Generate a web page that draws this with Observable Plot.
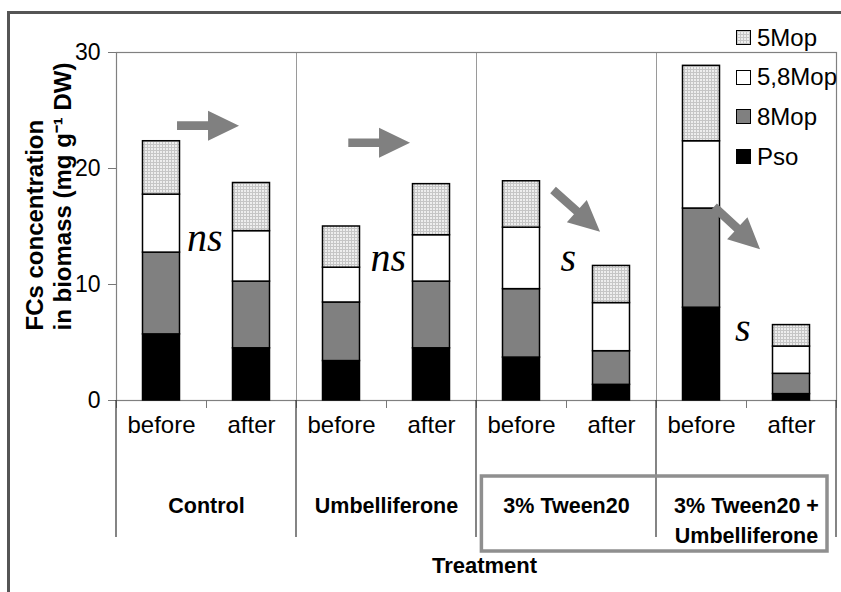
<!DOCTYPE html>
<html><head><meta charset="utf-8">
<script src="https://cdn.jsdelivr.net/npm/d3@7"></script>
<script src="https://cdn.jsdelivr.net/npm/@observablehq/plot@0.6"></script>
<style>
html,body{margin:0;padding:0;background:#fff;overflow:hidden;}
#wrap{position:relative;width:841px;height:592px;font-family:"Liberation Sans",Arial,sans-serif;}
#chart{position:absolute;left:0;top:0;}
#frame{position:absolute;left:7px;top:11px;width:900px;height:700px;border-left:3px solid #555;border-top:3px solid #555;pointer-events:none;}
#legend{position:absolute;left:736px;top:18px;font-size:24px;color:#000;}
.item{display:flex;align-items:center;height:39.6px;}
.sw{width:13px;height:13px;border:1px solid #000;margin-right:6px;box-sizing:content-box;}
</style></head>
<body><div id="wrap"><div id="chart"></div><div id="frame"></div><div id="legend"></div></div>
<script>
// ---- data ----
const treatments = ["Control", "Umbelliferone", "3% Tween20", "3% Tween20 +\nUmbelliferone"];
const phases = ["before", "after"];
const compounds = ["Pso", "8Mop", "5,8Mop", "5Mop"];          // stack order, bottom to top
const legendOrder = ["5Mop", "5,8Mop", "8Mop", "Pso"];
// one value per bar: Control b/a, Umbelliferone b/a, Tween b/a, Tween+Umb b/a
const pso   = [5.7, 4.5, 3.4, 4.5, 3.7, 1.35, 8.0, 0.55];
const mop8  = [7.05, 5.75, 5.05, 5.75, 5.9, 2.9, 8.55, 1.75];
const mop58 = [5.0, 4.35, 3.0, 4.0, 5.3, 4.15, 5.8, 2.35];
const mop5  = [4.6, 4.15, 3.55, 4.4, 4.0, 3.2, 6.5, 1.85];
const yTicks = [0, 10, 20, 30];
// significance annotations (data coordinates)
const sigText = ["ns", "ns", "s", "s"];
const sigX = [0.98, 3.02, 5.02, 6.96];
const sigY = [12.9, 11.2, 11.2, 5.17];
// trend arrows (tail -> tip, data coordinates)
const arrowX1 = [0.678, 2.581, 4.856, 6.644];
const arrowY1 = [23.65, 22.18, 18.10, 16.66];
const arrowX2 = [1.367, 3.267, 5.378, 7.156];
const arrowY2 = [23.65, 22.18, 14.51, 12.99];

// ---- tables built from the arrays ----
const series = [pso, mop8, mop58, mop5];
const bars = [];
for (let i = 0; i < pso.length; i++) compounds.forEach((c, k) => bars.push({i, compound: c, value: series[k][i]}));
const barIdx = d3.range(pso.length);
const groupBounds = d3.range(0, pso.length + 1, 2);
const sig = sigText.map((t, k) => ({t, x: sigX[k], y: sigY[k]}));
const arrows = arrowX1.map((x1, k) => ({x1, y1: arrowY1[k], x2: arrowX2[k], y2: arrowY2[k]}));

const fills = {"Pso": "#000000", "8Mop": "#808080", "5,8Mop": "#ffffff", "5Mop": "url(#dots5)"};

function defsMark() {
  const defs = d3.create("svg:defs");
  const p = defs.append("pattern").attr("id", "dots5").attr("patternUnits", "userSpaceOnUse")
    .attr("width", 3).attr("height", 3);
  p.append("rect").attr("width", 3).attr("height", 3).attr("fill", "#eeeeee");
  p.append("rect").attr("width", 3).attr("height", 1).attr("fill", "#c6c6c6");
  p.append("rect").attr("width", 1).attr("height", 3).attr("fill", "#c6c6c6");
  return defs.node();
}

function arrowsMark(index, scales) {
  const g = d3.create("svg:g");
  for (const a of arrows) {
    const x1 = scales.x(a.x1), y1 = scales.y(a.y1), x2 = scales.x(a.x2), y2 = scales.y(a.y2);
    const L = Math.hypot(x2 - x1, y2 - y1), ux = (x2 - x1) / L, uy = (y2 - y1) / L, px = -uy, py = ux;
    const hl = 31, hw = 15, sw = 4.3;
    const bx = x2 - ux * hl, by = y2 - uy * hl;
    const pts = [
      [x1 + px * sw, y1 + py * sw], [bx + px * sw, by + py * sw], [bx + px * hw, by + py * hw],
      [x2, y2], [bx - px * hw, by - py * hw], [bx - px * sw, by - py * sw], [x1 - px * sw, y1 - py * sw]
    ];
    g.append("polygon").attr("points", pts.map(p => p.join(",")).join(" ")).attr("fill", "#808080");
  }
  return g.node();
}

function belowAxisMark(index, scales, values, dims) {
  const g = d3.create("svg:g");
  const y0 = dims.height - dims.marginBottom;
  for (const b of groupBounds) {
    g.append("line").attr("x1", scales.x(b)).attr("x2", scales.x(b))
      .attr("y1", y0).attr("y2", y0 + 137).attr("stroke", "#333").attr("stroke-width", 1.2);
  }
  g.append("rect").attr("x", scales.x(4.06)).attr("y", y0 + 76)
    .attr("width", scales.x(7.9) - scales.x(4.06)).attr("height", 75)
    .attr("fill", "none").attr("stroke", "#8f8f8f").attr("stroke-width", 3.5);
  return g.node();
}

const chart = Plot.plot({
  width: 841, height: 592,
  marginLeft: 116, marginRight: 5, marginTop: 52, marginBottom: 192,
  style: {fontFamily: "'Liberation Sans', Arial, sans-serif", background: "transparent", color: "#000"},
  x: {domain: [0, pso.length], axis: null},
  y: {domain: [0, 30], axis: null},
  color: {domain: compounds, range: compounds.map(c => fills[c])},
  marks: [
    defsMark,
    Plot.ruleX(groupBounds.slice(1, -1), {stroke: "#9a9a9a", strokeWidth: 1}),
    Plot.frame({stroke: "#808080", strokeWidth: 1.2}),
    Plot.rectY(bars, {x1: d => d.i, x2: d => d.i + 1, y: "value", fill: "compound",
      stroke: "#000", strokeWidth: 1.5, insetLeft: 26.5, insetRight: 26.5}),
    Plot.axisY({ticks: yTicks, tickSize: 8, tickPadding: 8, fontSize: 23, stroke: "#777", fill: "#000", label: null}),
    Plot.axisX({ticks: d3.range(0, pso.length + 1), tickSize: 8, tickFormat: () => "", stroke: "#777", label: null}),
    belowAxisMark,
    arrowsMark,
    Plot.text(sig, {x: "x", y: "y", text: "t", lineAnchor: "bottom", fontSize: 40, fontStyle: "italic",
      fontFamily: "'Liberation Serif', 'Times New Roman', serif"}),
    Plot.text(barIdx, {x: i => i + 0.5, text: i => phases[i % 2], frameAnchor: "bottom", lineAnchor: "bottom",
      dy: 32.5, fontSize: 24}),
    Plot.text(treatments, {x: (d, i) => 2 * i + 1, text: d => d, frameAnchor: "bottom", lineAnchor: "top",
      dy: 91, fontSize: 21.5, fontWeight: "bold", lineHeight: 1.4}),
    Plot.text(["Treatment"], {x: () => pso.length / 2, text: d => d, dx: 8, frameAnchor: "bottom",
      lineAnchor: "bottom", dy: 172.7, fontSize: 22, fontWeight: "bold"}),
    Plot.text(["FCs concentration\nin biomass (mg g\u207B\u00B9 DW)"], {text: d => d, frameAnchor: "bottom-left",
      rotate: -90, textAnchor: "start", lineAnchor: "bottom", dx: -46, dy: -70, fontSize: 24,
      fontWeight: "bold", lineHeight: 28 / 24})
  ]
});
document.getElementById("chart").appendChild(chart);

const legend = document.getElementById("legend");
for (const c of legendOrder) {
  const item = document.createElement("div");
  item.className = "item";
  const sw = document.createElement("div");
  sw.className = "sw";
  if (c === "5Mop") sw.style.background = "repeating-linear-gradient(0deg,#c6c6c6 0 1px,transparent 1px 3px),repeating-linear-gradient(90deg,#c6c6c6 0 1px,#eeeeee 1px 3px)";
  else sw.style.background = fills[c];
  const t = document.createElement("span");
  t.textContent = c;
  item.appendChild(sw); item.appendChild(t);
  legend.appendChild(item);
}
</script>
</body></html>
